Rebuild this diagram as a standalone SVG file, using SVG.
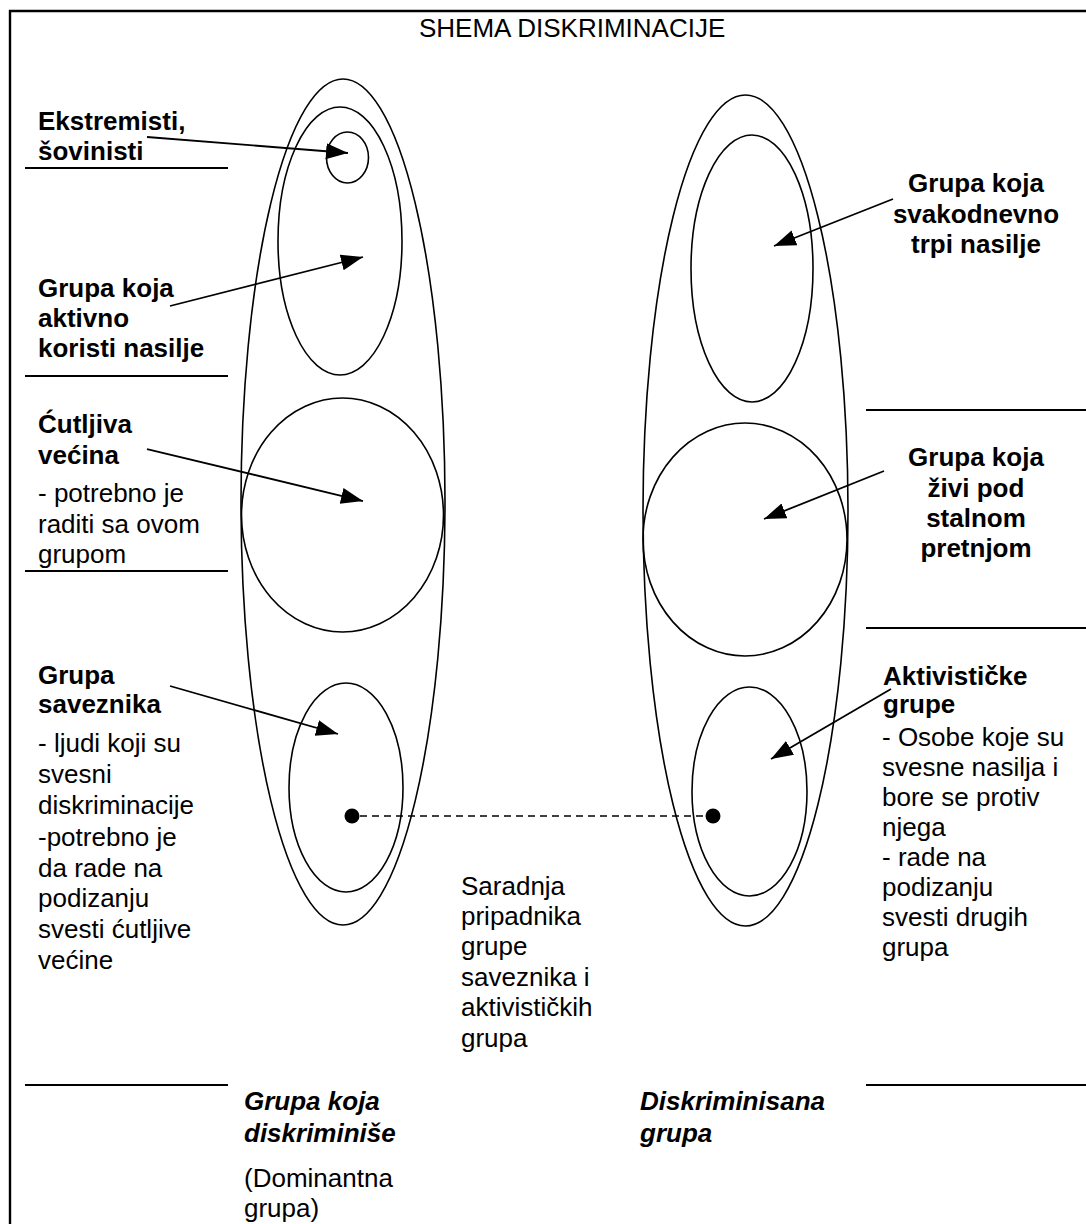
<svg xmlns="http://www.w3.org/2000/svg" width="1086" height="1224" viewBox="0 0 1086 1224">
<style>
  .shape { fill: none; stroke: #000; stroke-width: 1.6; }
  .rule { stroke: #000; stroke-width: 2; fill: none; }
  .frame { stroke: #000; stroke-width: 2.4; fill: none; }
  .arrow { stroke: #000; stroke-width: 1.8; fill: none; marker-end: url(#arr); }
  .dash { stroke: #000; stroke-width: 1.6; fill: none; stroke-dasharray: 7 5; }
  text { font-family: "Liberation Sans", Arial, sans-serif; font-size: 26px; fill: #000; }
  .b { font-weight: bold; }
  .bi { font-weight: bold; font-style: italic; }
  .c { text-anchor: middle; }
</style>
<defs>
  <marker id="arr" markerUnits="userSpaceOnUse" markerWidth="24" markerHeight="18" refX="22" refY="8" orient="auto">
    <path d="M0,0 L22,8 L0,16 Z" fill="#000"/>
  </marker>
</defs>
<rect x="0" y="0" width="1086" height="1224" fill="#fff"/>

<g id="frame">
  <path class="frame" d="M10,1224 V11 H1086"/>
  <text x="419" y="37">SHEMA DISKRIMINACIJE</text>
</g>

<g id="rules">
  <line class="rule" x1="25" y1="168" x2="228" y2="168"/>
  <line class="rule" x1="25" y1="376" x2="228" y2="376"/>
  <line class="rule" x1="25" y1="571" x2="228" y2="571"/>
  <line class="rule" x1="25" y1="1085" x2="228" y2="1085"/>
  <line class="rule" x1="866" y1="410" x2="1086" y2="410"/>
  <line class="rule" x1="866" y1="628" x2="1086" y2="628"/>
  <line class="rule" x1="866" y1="1085" x2="1086" y2="1085"/>
</g>

<g id="dominant-group">
  <ellipse class="shape" cx="343" cy="502" rx="102" ry="423"/>
  <text x="244" y="1110" class="bi">Grupa koja</text>
  <text x="244" y="1142" class="bi">diskriminiše</text>
  <text x="244" y="1187">(Dominantna</text>
  <text x="244" y="1217">grupa)</text>
</g>

<g id="violent-group">
  <ellipse class="shape" cx="340" cy="241" rx="62" ry="134"/>
  <text x="38" y="297" class="b">Grupa koja</text>
  <text x="38" y="327" class="b">aktivno</text>
  <text x="38" y="357" class="b">koristi nasilje</text>
</g>

<g id="extremists">
  <ellipse class="shape" cx="347.5" cy="157.5" rx="21" ry="25.5"/>
  <text x="38" y="130" class="b">Ekstremisti,</text>
  <text x="38" y="160" class="b">šovinisti</text>
</g>

<g id="silent-majority">
  <ellipse class="shape" cx="342.5" cy="515" rx="101" ry="117"/>
  <text x="38" y="433" class="b">Ćutljiva</text>
  <text x="38" y="464" class="b">većina</text>
  <text x="38" y="502">- potrebno je</text>
  <text x="38" y="533">raditi sa ovom</text>
  <text x="38" y="563">grupom</text>
</g>

<g id="allies">
  <ellipse class="shape" cx="346" cy="787.5" rx="57" ry="104.5"/>
  <circle cx="352" cy="816" r="7.5" fill="#000"/>
  <text x="38" y="684" class="b">Grupa</text>
  <text x="38" y="713" class="b">saveznika</text>
  <text x="38" y="752">- ljudi koji su</text>
  <text x="38" y="783">svesni</text>
  <text x="38" y="814">diskriminacije</text>
  <text x="38" y="846">-potrebno je</text>
  <text x="38" y="877">da rade na</text>
  <text x="38" y="907">podizanju</text>
  <text x="38" y="938">svesti ćutljive</text>
  <text x="38" y="969">većine</text>
</g>

<g id="discriminated-group">
  <ellipse class="shape" cx="745.5" cy="510.5" rx="102.5" ry="415.5"/>
  <text x="640" y="1110" class="bi">Diskriminisana</text>
  <text x="640" y="1142" class="bi">grupa</text>
</g>

<g id="daily-violence">
  <ellipse class="shape" cx="752" cy="268.5" rx="61" ry="133.5"/>
  <text x="976" y="192" class="b c">Grupa koja</text>
  <text x="976" y="223" class="b c">svakodnevno</text>
  <text x="976" y="253" class="b c">trpi nasilje</text>
</g>

<g id="constant-threat">
  <ellipse class="shape" cx="745" cy="539.5" rx="102" ry="116.5"/>
  <text x="976" y="466" class="b c">Grupa koja</text>
  <text x="976" y="497" class="b c">živi pod</text>
  <text x="976" y="527" class="b c">stalnom</text>
  <text x="976" y="557" class="b c">pretnjom</text>
</g>

<g id="activists">
  <ellipse class="shape" cx="749.5" cy="791.5" rx="57.5" ry="104.5"/>
  <circle cx="713" cy="816" r="7.5" fill="#000"/>
  <text x="883" y="685" class="b">Aktivističke</text>
  <text x="883" y="713" class="b">grupe</text>
  <text x="882" y="746">- Osobe koje su</text>
  <text x="882" y="776">svesne nasilja i</text>
  <text x="882" y="806">bore se protiv</text>
  <text x="882" y="836">njega</text>
  <text x="882" y="866">- rade na</text>
  <text x="882" y="896">podizanju</text>
  <text x="882" y="926">svesti drugih</text>
  <text x="882" y="956">grupa</text>
</g>

<g id="cooperation">
  <text x="461" y="895">Saradnja</text>
  <text x="461" y="925">pripadnika</text>
  <text x="461" y="955">grupe</text>
  <text x="461" y="986">saveznika i</text>
  <text x="461" y="1016">aktivističkih</text>
  <text x="461" y="1047">grupa</text>
</g>

<g id="connectors">
  <line class="arrow" x1="147" y1="137" x2="348" y2="153"/>
  <line class="arrow" x1="170" y1="306" x2="363" y2="257"/>
  <line class="arrow" x1="147" y1="449" x2="363" y2="501"/>
  <line class="arrow" x1="170" y1="686" x2="338" y2="734"/>
  <line class="arrow" x1="893" y1="199" x2="774" y2="246"/>
  <line class="arrow" x1="884" y1="471" x2="764" y2="519"/>
  <line class="arrow" x1="891" y1="689" x2="771" y2="759"/>
  <line class="dash" x1="360" y1="816" x2="705" y2="816"/>
</g>
</svg>
